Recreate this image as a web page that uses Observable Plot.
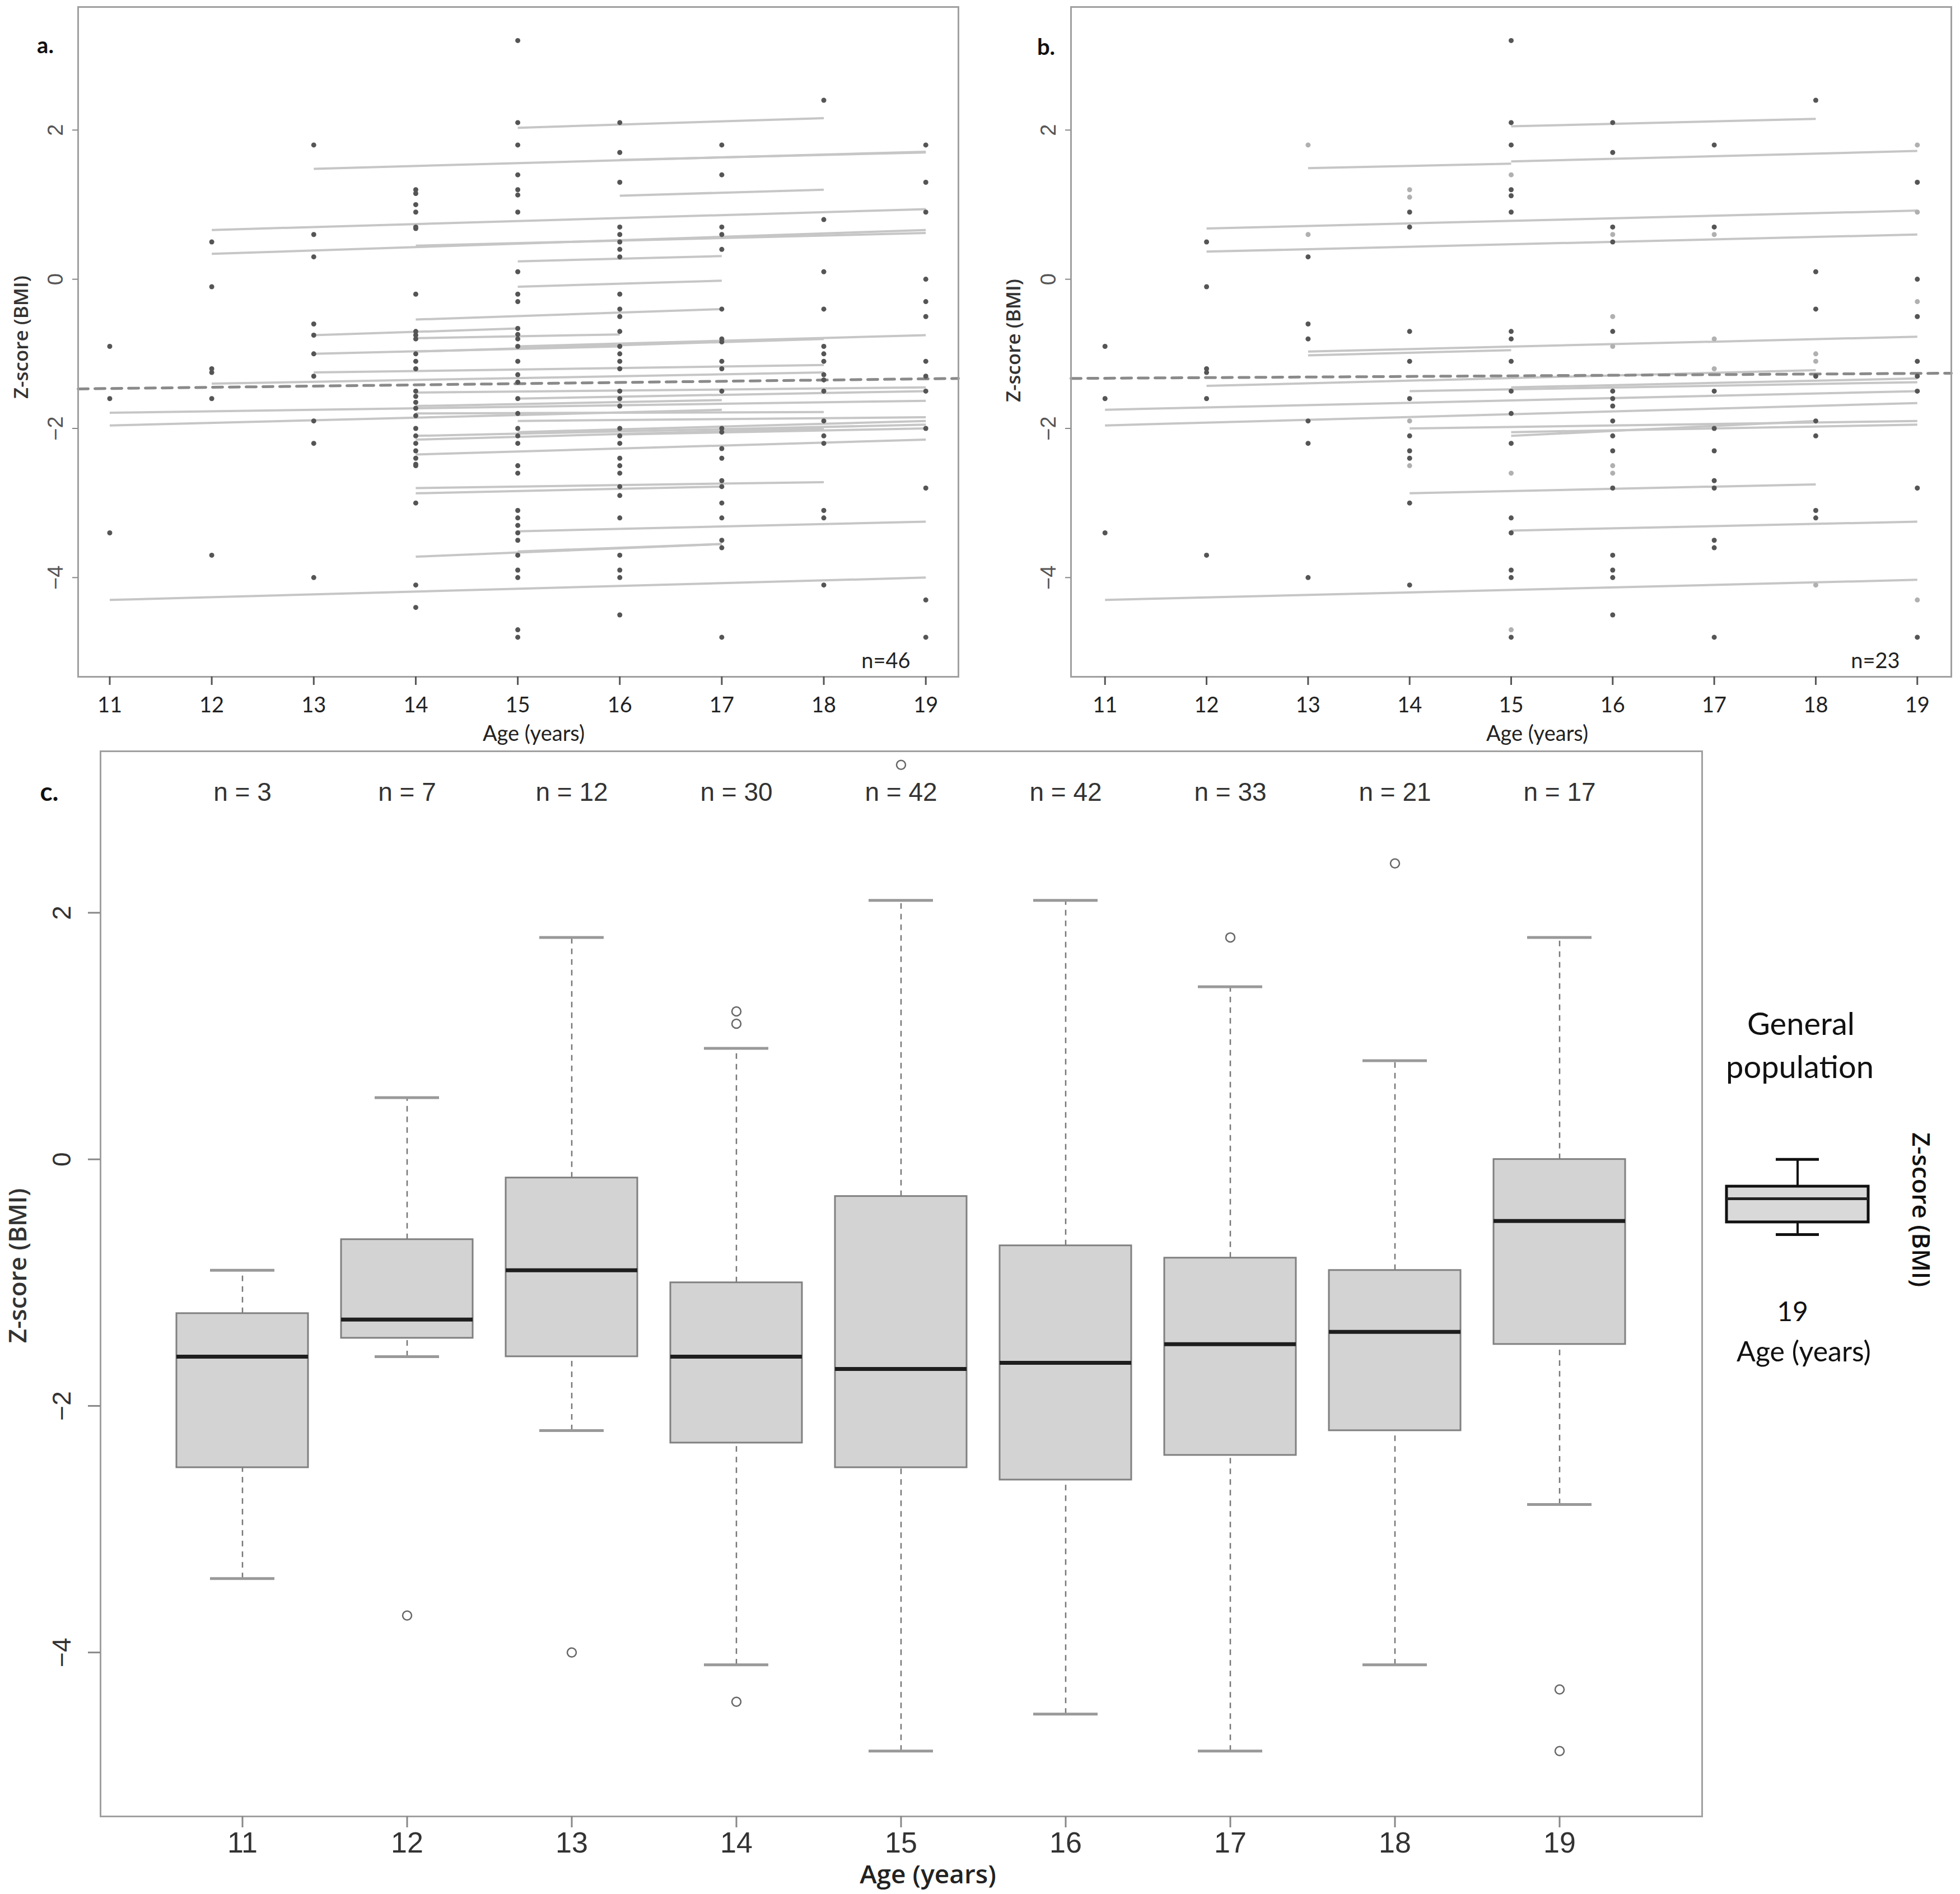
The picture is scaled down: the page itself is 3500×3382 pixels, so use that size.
<!DOCTYPE html>
<html>
<head>
<meta charset="utf-8">
<script src="https://cdn.jsdelivr.net/npm/d3@7"></script>
<script src="https://cdn.jsdelivr.net/npm/@observablehq/plot@0.6"></script>
<style>
  body { margin: 0; background: white; }
  #page { position: relative; width: 3500px; height: 3382px; background: white; overflow: hidden; }
  .abs { position: absolute; }
  .lbl { position: absolute; white-space: nowrap; transform: translate(-50%, -50%); }
</style>
</head>
<body>
<div id="page"></div>
<script>
// ages on the x axis, y tick values
const ages = [11, 12, 13, 14, 15, 16, 17, 18, 19]
const yTicks = [-4, -2, 0, 2]

// panel a: measured Z-scores per age (one list per age)
const aPoints = [
  [-0.9, -1.6, -3.4],
  [0.5, -0.1, -1.2, -1.25, -1.6, -3.7],
  [1.8, 0.6, 0.3, -0.6, -0.75, -1.0, -1.3, -1.9, -2.2, -4.0],
  [1.2, 1.15, 1.0, 0.9, 0.7, 0.68, -0.2, -0.7, -0.75, -0.8, -1.0, -1.1, -1.2, -1.5, -1.57, -1.65, -1.73, -1.83, -2.0, -2.1, -2.2, -2.3, -2.4, -2.48, -2.5, -3.0, -4.1, -4.4],
  [3.2, 2.1, 1.8, 1.4, 1.2, 1.13, 0.9, 0.1, -0.2, -0.3, -0.66, -0.74, -0.8, -0.9, -1.1, -1.28, -1.38, -1.6, -1.8, -2.0, -2.1, -2.2, -2.5, -2.6, -3.1, -3.2, -3.3, -3.4, -3.5, -3.7, -3.9, -4.0, -4.7, -4.8],
  [2.1, 1.7, 1.3, 0.7, 0.6, 0.5, 0.4, 0.3, -0.2, -0.4, -0.5, -0.7, -0.9, -1.0, -1.1, -1.2, -1.5, -1.6, -1.7, -2.0, -2.1, -2.2, -2.4, -2.5, -2.6, -2.78, -2.9, -3.2, -3.7, -3.9, -4.0, -4.5],
  [1.8, 1.4, 0.7, 0.6, 0.4, -0.4, -0.8, -0.84, -1.1, -1.2, -1.5, -2.0, -2.05, -2.27, -2.4, -2.7, -2.78, -3.0, -3.2, -3.5, -3.6, -4.8],
  [2.4, 0.8, 0.1, -0.4, -0.9, -1.0, -1.1, -1.28, -1.35, -1.5, -1.9, -2.1, -2.2, -3.1, -3.2, -4.1],
  [1.8, 1.3, 0.9, 0.0, -0.3, -0.5, -1.1, -1.3, -1.5, -2.0, -2.8, -4.3, -4.8]
]
// panel a: individual trajectories [start age, end age, start z, end z]
const aLines = [
  [15, 18, 2.03, 2.16], [13, 19, 1.48, 1.71], [16, 19, 1.6, 1.7], [16, 18, 1.12, 1.2],
  [12, 19, 0.66, 0.94], [12, 19, 0.34, 0.66], [14, 19, 0.45, 0.62], [15, 17, 0.24, 0.31],
  [15, 17, -0.1, -0.02], [14, 17, -0.54, -0.4], [13, 15, -0.75, -0.66], [14, 16, -0.79, -0.74],
  [15, 19, -0.9, -0.75], [14, 18, -0.97, -0.8], [13, 16, -1.0, -0.9], [13, 18, -1.25, -1.15],
  [12, 18, -1.4, -1.25], [14, 19, -1.52, -1.45], [15, 19, -1.6, -1.5], [11, 19, -1.79, -1.63],
  [11, 17, -1.96, -1.75], [14, 17, -1.7, -1.62], [14, 18, -1.8, -1.78], [15, 19, -1.9, -1.85],
  [14, 19, -2.1, -1.95], [14, 18, -2.15, -2.0], [15, 19, -2.05, -1.9], [16, 19, -2.08, -2.0],
  [14, 19, -2.35, -2.15], [14, 18, -2.8, -2.72], [14, 17, -2.87, -2.78], [15, 19, -3.38, -3.25],
  [14, 17, -3.72, -3.55], [15, 17, -3.65, -3.55], [11, 19, -4.3, -4.0]
]
// panel a: fitted mean line (dashed), from left to right edge
const aMean = [[10.69, -1.47], [19.32, -1.33]]

// panel b: measured Z-scores per age, dark and light points
const bPoints = [
  [-0.9, -1.6, -3.4],
  [0.5, -0.1, -1.2, -1.25, -1.6, -3.7],
  [0.3, -0.6, -0.8, -1.9, -2.2, -4.0],
  [0.9, 0.7, -0.7, -1.1, -1.6, -2.1, -2.3, -2.4, -3.0, -4.1],
  [3.2, 2.1, 1.8, 1.2, 1.12, 0.9, -0.7, -0.8, -1.1, -1.5, -1.8, -2.2, -3.2, -3.4, -3.9, -4.0, -4.8],
  [2.1, 1.7, 0.7, 0.5, -0.7, -1.5, -1.6, -1.7, -1.9, -2.1, -2.3, -2.8, -3.7, -3.9, -4.0, -4.5],
  [1.8, 0.7, -1.5, -2.0, -2.3, -2.7, -2.8, -3.5, -3.6, -4.8],
  [2.4, 0.1, -0.4, -1.3, -1.9, -2.1, -3.1, -3.2],
  [1.3, 0.0, -0.5, -1.1, -1.3, -1.5, -2.8, -4.8]
]
const bLight = [
  [],
  [],
  [1.8, 0.6],
  [1.2, 1.1, -1.9, -2.5],
  [1.4, -2.6, -4.7],
  [0.6, -0.5, -0.9, -2.5, -2.6],
  [0.6, -0.8, -1.2],
  [-1.0, -1.1, -4.1],
  [1.8, 0.9, -0.3, -4.3]
]
const bLines = [
  [15, 18, 2.05, 2.15], [13, 15, 1.49, 1.55], [15, 19, 1.58, 1.72], [12, 19, 0.68, 0.92],
  [12, 19, 0.37, 0.6], [13, 19, -0.97, -0.77], [13, 15, -1.02, -0.95], [12, 18, -1.43, -1.22],
  [14, 19, -1.5, -1.38], [15, 19, -1.45, -1.33], [11, 19, -1.75, -1.5], [11, 19, -1.96, -1.66],
  [14, 19, -2.0, -1.9], [15, 19, -2.05, -1.95], [15, 18, -2.1, -1.9], [14, 18, -2.87, -2.75],
  [15, 19, -3.37, -3.25], [11, 19, -4.3, -4.03]
]
const bMean = [[10.665, -1.33], [19.335, -1.26]]

// panel c: box plot summaries per age
const nByAge = [3, 7, 12, 30, 42, 42, 33, 21, 17]
const lowWhisker = [-3.4, -1.6, -2.2, -4.1, -4.8, -4.5, -4.8, -4.1, -2.8]
const q1 = [-2.5, -1.45, -1.6, -2.3, -2.5, -2.6, -2.4, -2.2, -1.5]
const median = [-1.6, -1.3, -0.9, -1.6, -1.7, -1.65, -1.5, -1.4, -0.5]
const q3 = [-1.25, -0.65, -0.15, -1.0, -0.3, -0.7, -0.8, -0.9, 0.0]
const highWhisker = [-0.9, 0.5, 1.8, 0.9, 2.1, 2.1, 1.4, 0.8, 1.8]
const outliers = [[], [-3.7], [-4.0], [1.2, 1.1, -4.4], [3.2], [], [1.8], [2.4], [-4.3, -4.8]]

// general population reference box (age 19)
const genPop = {low: -0.61, q1: -0.51, median: -0.32, q3: -0.22, high: 0.0}

const page = document.getElementById("page")

function place(el, left, top) {
  const d = document.createElement("div")
  d.className = "abs"
  d.style.left = left + "px"
  d.style.top = top + "px"
  d.appendChild(el)
  page.appendChild(d)
}

function label(text, cx, cy, css, rotate) {
  const d = document.createElement("div")
  d.className = "lbl"
  d.textContent = text
  d.style.left = cx + "px"
  d.style.top = cy + "px"
  Object.assign(d.style, css)
  if (rotate) d.style.transform = `translate(-50%, -50%) rotate(${rotate}deg)`
  page.appendChild(d)
}

function spaghetti(points, light, lines, mean, xDomain) {
  const dots = ages.flatMap((a, i) => points[i].map(z => ({age: a, z})))
  const lightDots = ages.flatMap((a, i) => light[i].map(z => ({age: a, z})))
  return Plot.plot({
    width: 1721,
    height: 1368,
    marginLeft: 139,
    marginRight: 10,
    marginTop: 12,
    marginBottom: 160,
    x: {domain: xDomain},
    y: {domain: [-5.33, 3.65]},
    style: {background: "transparent", overflow: "visible"},
    marks: [
      Plot.link(lines, {x1: d => d[0], x2: d => d[1], y1: d => d[2], y2: d => d[3], stroke: "#c6c6c6", strokeWidth: 4}),
      Plot.line(mean, {x: d => d[0], y: d => d[1], stroke: "#8a8a8a", strokeWidth: 5, strokeDasharray: "18,12"}),
      Plot.dot(lightDots, {x: "age", y: "z", r: 4.5, fill: "#b0b0b0"}),
      Plot.dot(dots, {x: "age", y: "z", r: 4.5, fill: "#555"}),
      Plot.frame({stroke: "#a0a0a0", strokeWidth: 3}),
      Plot.axisX({ticks: ages, tickSize: 15, tickPadding: 22, fontSize: 38, fontFamily: "Lato", fill: "#222", stroke: "#555", strokeWidth: 3, label: null}),
      Plot.axisY({ticks: yTicks, tickSize: 10, tickPadding: 18, tickRotate: -90, fontSize: 38, fontFamily: "Liberation Sans", fill: "#555", stroke: "#888", strokeWidth: 2, label: null})
    ]
  })
}

// panels a and b
place(spaghetti(aPoints, ages.map(() => []), aLines, aMean, [10.69, 19.32]), 0, 0)
place(spaghetti(bPoints, bLight, bLines, bMean, [10.665, 19.335]), 1773, 0)

// panel c
const boxes = ages.map((a, i) => ({age: a, n: nByAge[i], lo: lowWhisker[i], q1: q1[i], med: median[i], q3: q3[i], hi: highWhisker[i]}))
const outs = ages.flatMap((a, i) => outliers[i].map(z => ({age: a, z})))
const cY = [-5.33, 3.31]

const boxPlot = Plot.plot({
  width: 3049,
  height: 2022,
  marginLeft: 179,
  marginRight: 10,
  marginTop: 20,
  marginBottom: 100,
  x: {type: "band", domain: ages, paddingInner: 0.2, paddingOuter: 0.455},
  y: {domain: cY},
  style: {background: "transparent", overflow: "visible"},
  marks: [
    Plot.ruleX(boxes, {x: "age", y1: "q3", y2: "hi", stroke: "#777", strokeWidth: 2.5, strokeDasharray: "10,9"}),
    Plot.ruleX(boxes, {x: "age", y1: "lo", y2: "q1", stroke: "#777", strokeWidth: 2.5, strokeDasharray: "10,9"}),
    Plot.tickY(boxes, {x: "age", y: "hi", stroke: "#999", strokeWidth: 5, insetLeft: 60, insetRight: 60}),
    Plot.tickY(boxes, {x: "age", y: "lo", stroke: "#999", strokeWidth: 5, insetLeft: 60, insetRight: 60}),
    Plot.barY(boxes, {x: "age", y1: "q1", y2: "q3", fill: "#d3d3d3", stroke: "#808080", strokeWidth: 3}),
    Plot.tickY(boxes, {x: "age", y: "med", stroke: "#1e1e1e", strokeWidth: 7}),
    Plot.dot(outs, {x: "age", y: "z", r: 8, stroke: "#666", strokeWidth: 2.5, fill: "none"}),
    Plot.text(boxes, {x: "age", text: d => `n = ${d.n}`, frameAnchor: "top", dy: 56, fontSize: 46, fontFamily: "Liberation Sans", fill: "#333"}),
    Plot.frame({stroke: "#a0a0a0", strokeWidth: 3}),
    Plot.axisX({tickSize: 20, tickPadding: 8, fontSize: 52, fontFamily: "Liberation Sans", fill: "#333", stroke: "#888", strokeWidth: 3, label: null}),
    Plot.axisY({ticks: yTicks, tickSize: 22, tickPadding: 32, tickRotate: -90, fontSize: 46, fontFamily: "Liberation Sans", fill: "#333", stroke: "#888", strokeWidth: 3, label: null})
  ]
})
place(boxPlot, 0, 1321)

// general population reference box
const legendBox = Plot.plot({
  width: 293,
  height: 2022,
  marginLeft: 20,
  marginRight: 20,
  marginTop: 20,
  marginBottom: 100,
  x: {type: "band", domain: ["General population"], padding: 0, axis: null},
  y: {domain: cY, axis: null},
  style: {background: "transparent", overflow: "visible"},
  marks: [
    Plot.ruleX([genPop], {x: () => "General population", y1: "q3", y2: "high", stroke: "#111", strokeWidth: 4}),
    Plot.ruleX([genPop], {x: () => "General population", y1: "low", y2: "q1", stroke: "#111", strokeWidth: 4}),
    Plot.tickY([genPop], {x: () => "General population", y: "high", stroke: "#111", strokeWidth: 5, insetLeft: 88, insetRight: 88}),
    Plot.tickY([genPop], {x: () => "General population", y: "low", stroke: "#111", strokeWidth: 5, insetLeft: 88, insetRight: 88}),
    Plot.barY([genPop], {x: () => "General population", y1: "q1", y2: "q3", fill: "#d9d9d9", stroke: "#111", strokeWidth: 5}),
    Plot.tickY([genPop], {x: () => "General population", y: "median", stroke: "#222", strokeWidth: 5})
  ]
})
place(legendBox, 3063, 1321)

// texts
const bold = {fontFamily: "Lato", fontWeight: "bold", fontSize: "40px", color: "#111"}
label("a.", 81, 80, bold)
label("b.", 1868, 83, bold)
label("c.", 88, 1412, Object.assign({}, bold, {fontSize: "46px"}))

const small = {fontFamily: "Lato", fontSize: "38px", color: "#222"}
label("n=46", 1582, 1178, small)
label("n=23", 3349, 1178, small)
label("Age (years)", 953, 1308, small)
label("Age (years)", 2745, 1308, small)

const yTitle = {fontFamily: "Open Sans", fontWeight: "600", fontSize: "35px", color: "#333"}
label("Z-score (BMI)", 36, 602, yTitle, -90)
label("Z-score (BMI)", 1808, 608, yTitle, -90)
label("Z-score (BMI)", 30, 2260, Object.assign({}, yTitle, {fontSize: "44px"}), -90)
label("Age (years)", 1657, 3345, {fontFamily: "Open Sans", fontWeight: "600", fontSize: "46px", color: "#222"})

const legendText = {fontFamily: "Lato", fontSize: "56px", color: "#111"}
label("General", 3216, 1826, legendText)
label("population", 3214, 1903, legendText)
label("19", 3201, 2340, Object.assign({}, legendText, {fontSize: "48px"}))
label("Age (years)", 3221, 2412, Object.assign({}, legendText, {fontSize: "50px"}))
label("Z-score (BMI)", 3432, 2160, {fontFamily: "Open Sans", fontWeight: "600", fontSize: "44px", color: "#111"}, 90)
</script>
</body>
</html>
